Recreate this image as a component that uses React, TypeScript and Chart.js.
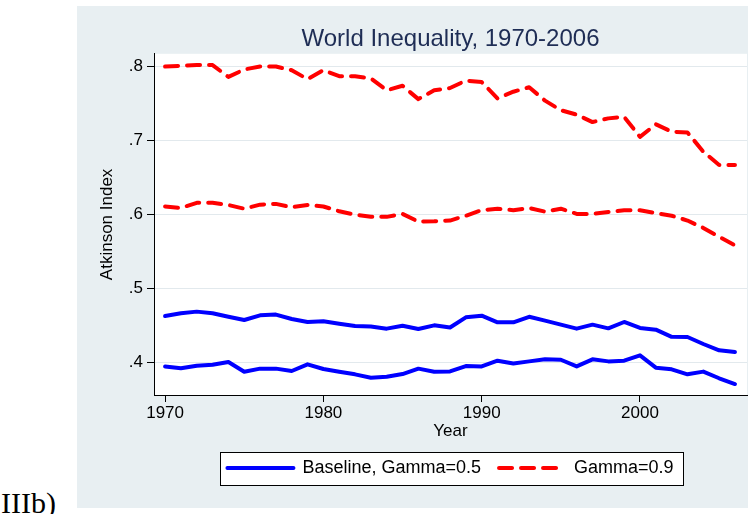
import React, { useEffect, useRef } from "react";
import { Chart, registerables } from "chart.js";

Chart.register(...registerables);

const years = [
  1970, 1971, 1972, 1973, 1974, 1975, 1976, 1977, 1978, 1979,
  1980, 1981, 1982, 1983, 1984, 1985, 1986, 1987, 1988, 1989,
  1990, 1991, 1992, 1993, 1994, 1995, 1996, 1997, 1998, 1999,
  2000, 2001, 2002, 2003, 2004, 2005, 2006,
];

const baselineUpper = [
  0.463, 0.4667, 0.469, 0.4667, 0.462, 0.4577, 0.464, 0.465, 0.459, 0.455,
  0.456, 0.4527, 0.4496, 0.449, 0.446, 0.450, 0.4455, 0.4505, 0.4475, 0.4613,
  0.4635, 0.4546, 0.4546, 0.462, 0.4568, 0.4514, 0.446, 0.4514, 0.4464, 0.455,
  0.447, 0.4446, 0.435, 0.4347, 0.4253, 0.4167, 0.4145,
];

const baselineLower = [
  0.395, 0.3924, 0.396, 0.3973, 0.401, 0.3878, 0.392, 0.392, 0.3888, 0.3978,
  0.3915, 0.3878, 0.3843, 0.3797, 0.381, 0.3847, 0.392, 0.3878, 0.3882, 0.3955,
  0.395, 0.4027, 0.399, 0.4018, 0.4046, 0.404, 0.395, 0.4046, 0.4018, 0.4027,
  0.41, 0.3933, 0.3911, 0.3843, 0.388, 0.379, 0.3712,
];

const gammaUpper = [
  0.800, 0.801, 0.802, 0.802, 0.786, 0.796, 0.800, 0.800, 0.795, 0.783,
  0.795, 0.787, 0.787, 0.784, 0.768, 0.774, 0.756, 0.768, 0.771, 0.781,
  0.779, 0.757, 0.766, 0.772, 0.754, 0.741, 0.735, 0.725, 0.730, 0.732,
  0.705, 0.722, 0.712, 0.711, 0.685, 0.667, 0.667,
];

const gammaLower = [
  0.611, 0.609, 0.616, 0.616, 0.613, 0.608, 0.6135, 0.6145, 0.610, 0.613,
  0.611, 0.6045, 0.600, 0.597, 0.597, 0.601, 0.5905, 0.591, 0.592, 0.5985,
  0.606, 0.608, 0.606, 0.609, 0.604, 0.608, 0.601, 0.601, 0.6035, 0.606,
  0.606, 0.602, 0.5985, 0.592, 0.582, 0.570, 0.5585,
];

const xTickValues = [1970, 1980, 1990, 2000];
const yTickValues = [0.4, 0.5, 0.6, 0.7, 0.8];
const titleText = "World Inequality, 1970-2006";
const xTitle = "Year";
const yTitle = "Atkinson Index";
const legendLabels = ["Baseline, Gamma=0.5", "Gamma=0.9"];

const FONT = "'Liberation Sans', Arial, Helvetica, sans-serif";

const panelPlugin = {
  id: "panelPlugin",
  beforeDraw(chart: any) {
    const { ctx, chartArea } = chart;
    ctx.save();
    ctx.fillStyle = "#ffffff";
    ctx.fillRect(
      chartArea.left,
      chartArea.top,
      chartArea.right - chartArea.left,
      chartArea.bottom - chartArea.top
    );
    const legend = chart.legend;
    if (legend && legend.legendHitBoxes && legend.legendHitBoxes.length) {
      const boxes = legend.legendHitBoxes;
      const first = boxes[0];
      const last = boxes[boxes.length - 1];
      const left = Math.round(first.left - 7) + 0.5;
      const right = Math.round(last.left + last.width + 9) + 0.5;
      const cy = first.top + first.height / 2;
      const top = Math.round(cy - 16.5) + 0.5;
      const bottom = Math.round(cy + 16.5) + 0.5;
      ctx.fillStyle = "#ffffff";
      ctx.fillRect(left, top, right - left, bottom - top);
      ctx.strokeStyle = "#000000";
      ctx.lineWidth = 1;
      ctx.strokeRect(left, top, right - left, bottom - top);
    }
    ctx.restore();
  },
};

function toPoints(values: number[]) {
  return years.map((x, i) => ({ x, y: values[i] }));
}

export default function App() {
  const canvasRef = useRef<HTMLCanvasElement | null>(null);

  useEffect(() => {
    if (!canvasRef.current) return;
    const blue = "#0000ff";
    const red = "#ff0000";
    const solid = {
      borderColor: blue,
      backgroundColor: blue,
      borderWidth: 4,
      pointRadius: 0,
      tension: 0,
      borderJoinStyle: "round" as const,
      borderCapStyle: "round" as const,
    };
    const dashed = {
      borderColor: red,
      backgroundColor: red,
      borderWidth: 4,
      pointRadius: 0,
      tension: 0,
      borderDash: [13, 9],
      borderJoinStyle: "round" as const,
      borderCapStyle: "round" as const,
    };
    const tickFont = { family: FONT, size: 17 };
    const defaultGenerate = (Chart.defaults.plugins.legend.labels as any).generateLabels;
    const chart = new Chart(canvasRef.current, {
      type: "line",
      data: {
        datasets: [
          { label: legendLabels[0], data: toPoints(baselineUpper), ...solid },
          { label: legendLabels[0], data: toPoints(baselineLower), ...solid },
          { label: legendLabels[1], data: toPoints(gammaUpper), ...dashed },
          { label: legendLabels[1], data: toPoints(gammaLower), ...dashed },
        ],
      },
      options: {
        animation: false,
        responsive: true,
        maintainAspectRatio: false,
        layout: { padding: { top: 0, left: 0, right: 1, bottom: 21 } },
        plugins: {
          title: {
            display: true,
            text: titleText,
            fullSize: false,
            color: "#1e2d55",
            font: { family: FONT, size: 24, weight: "normal" },
            padding: { top: 19, bottom: 0 },
          },
          legend: {
            display: true,
            position: "bottom",
            fullSize: false,
            align: "center",
            labels: {
              usePointStyle: true,
              pointStyle: "line",
              pointStyleWidth: 66,
              padding: 18,
              color: "#000000",
              font: { family: FONT, size: 18 },
              generateLabels: (ch: any) =>
                defaultGenerate(ch).map((item: any) => {
                  const ds: any = ch.data.datasets[item.datasetIndex];
                  return {
                    ...item,
                    pointStyle: "line",
                    lineWidth: ds.borderWidth,
                    strokeStyle: ds.borderColor,
                    lineDash: ds.borderDash || [],
                    lineCap: "round",
                  };
                }),
              filter: (item: any) => item.datasetIndex === 0 || item.datasetIndex === 2,
            },
          },
          tooltip: { enabled: false },
        },
        scales: {
          x: {
            type: "linear",
            min: 1969.3,
            max: 2006.76,
            afterBuildTicks: (s: any) => {
              s.ticks = xTickValues.map((v) => ({ value: v }));
            },
            afterFit: (s: any) => {
              s.height = 46;
            },
            grid: {
              display: true,
              drawOnChartArea: false,
              tickLength: 7,
              tickColor: "#000000",
              tickWidth: 1,
            },
            border: { display: true, color: "#000000", width: 1 },
            ticks: {
              color: "#000000",
              padding: 1,
              font: tickFont,
              maxRotation: 0,
              callback: (v: any) => String(v),
            },
            title: {
              display: true,
              text: xTitle,
              color: "#000000",
              font: tickFont,
              padding: { top: 0, bottom: -1 },
            },
          },
          y: {
            type: "linear",
            min: 0.3564,
            max: 0.8172,
            afterBuildTicks: (s: any) => {
              s.ticks = yTickValues.map((v) => ({ value: v }));
            },
            afterFit: (s: any) => {
              s.width = 77;
            },
            grid: {
              color: "#e2e9ed",
              lineWidth: 1,
              tickLength: 7,
              tickColor: "#000000",
            },
            border: { display: true, color: "#000000", width: 1 },
            ticks: {
              color: "#000000",
              padding: 4,
              font: tickFont,
              callback: (v: any) => Number(v).toFixed(1).replace(/^0/, ""),
            },
            title: {
              display: true,
              text: yTitle,
              color: "#000000",
              font: tickFont,
              padding: { top: 20, bottom: 0 },
            },
          },
        },
      },
      plugins: [panelPlugin],
    });
    return () => chart.destroy();
  }, []);

  return (
    <div style={{ position: "absolute", left: 0, top: 0, width: 748, height: 514, overflow: "hidden" }}>
      <div
        style={{
          position: "absolute",
          left: 77,
          top: 6,
          width: 671,
          height: 502,
          background: "#e8eff2",
        }}
      >
        <canvas ref={canvasRef} />
      </div>
      <span
        style={{
          position: "absolute",
          left: 1,
          top: 488,
          fontFamily: "'Liberation Serif', 'Times New Roman', serif",
          fontSize: 30,
          lineHeight: 1,
          color: "#000",
        }}
      >
        IIIb)
      </span>
    </div>
  );
}
